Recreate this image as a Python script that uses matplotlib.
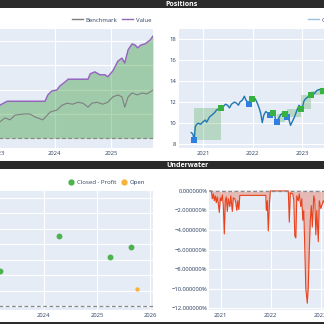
import matplotlib
matplotlib.use('Agg')
import matplotlib.pyplot as plt
from matplotlib.patches import Rectangle
from matplotlib.lines import Line2D
from matplotlib.ticker import FuncFormatter

plt.rcParams['font.family'] = ['Open Sans', 'DejaVu Sans']

# --- portfolio value vs benchmark (top left) ---
init_value = 100
value_years = [2022.90, 2023.03, 2023.16, 2023.83, 2023.88, 2023.95, 2024.04, 2024.09, 2024.18,
               2024.24, 2024.59, 2024.63, 2024.71, 2024.80, 2024.89, 2024.94, 2025.03, 2025.12,
               2025.19, 2025.24, 2025.30, 2025.37, 2025.42, 2025.47, 2025.53, 2025.60, 2025.69, 2025.74]
value_vals = [165, 168, 176, 176, 189, 197, 199, 207, 215,
              221, 221, 232, 236, 230, 230, 226, 238, 258,
              264, 254, 281, 293, 291, 285, 291, 293, 301, 309]
bench_years = [2022.90, 2023.03, 2023.12, 2023.21, 2023.30, 2023.47, 2023.56, 2023.65, 2023.79, 2023.92,
               2024.04, 2024.13, 2024.22, 2024.32, 2024.41, 2024.50, 2024.59, 2024.66, 2024.75, 2024.85,
               2024.94, 2025.03, 2025.12, 2025.19, 2025.24, 2025.30, 2025.37, 2025.46, 2025.55, 2025.63, 2025.74]
bench_vals = [130, 134, 142, 138, 148, 150, 150, 144, 138, 154,
              158, 168, 172, 170, 174, 172, 164, 172, 174, 170,
              174, 185, 189, 185, 164, 185, 193, 189, 193, 191, 199]

# --- close price and trades (top right) ---
close_years = [2020.76, 2020.79, 2020.82, 2020.84, 2020.87, 2020.90, 2020.95, 2020.99, 2021.04, 2021.07,
               2021.13, 2021.17, 2021.23, 2021.27, 2021.33, 2021.36, 2021.41, 2021.45, 2021.49, 2021.53,
               2021.57, 2021.63, 2021.67, 2021.71, 2021.74, 2021.79, 2021.83, 2021.86, 2021.91, 2021.94,
               2021.97, 2022.02, 2022.06, 2022.09, 2022.13, 2022.16, 2022.19, 2022.22, 2022.26, 2022.29,
               2022.34, 2022.37, 2022.41, 2022.44, 2022.47, 2022.52, 2022.56, 2022.61, 2022.65, 2022.69,
               2022.73, 2022.76, 2022.79, 2022.84, 2022.89, 2022.93, 2022.96, 2022.99, 2023.03, 2023.06,
               2023.11, 2023.15, 2023.19, 2023.24, 2023.29, 2023.34, 2023.37, 2023.42, 2023.50]
close_prices = [9.1, 9.0, 8.4, 9.65, 9.9, 10.0, 9.9, 10.1, 10.3, 10.1,
                10.6, 10.75, 11.0, 11.25, 11.4, 11.4, 11.6, 11.8, 11.7, 11.45,
                11.8, 12.0, 11.9, 11.7, 12.0, 12.2, 12.55, 12.2, 11.9, 12.0,
                12.35, 12.5, 12.2, 11.9, 11.4, 10.9, 10.05, 10.75, 11.1, 11.0,
                10.9, 10.75, 11.0, 10.75, 10.05, 10.45, 10.8, 11.0, 10.9, 10.55,
                10.3, 9.8, 10.1, 10.6, 11.25, 11.7, 11.55, 11.35, 12.1, 12.3,
                12.5, 12.65, 12.7, 12.8, 13.1, 13.2, 13.05, 13.1, 13.2]
entry_years = [2020.82, 2021.92, 2022.35, 2022.48, 2022.69, 2022.98, 2023.17]
entry_prices = [8.4, 11.8, 10.75, 10.1, 10.55, 11.33, 12.65]
exit_years = [2021.36, 2021.99, 2022.41, 2022.65, 2022.98, 2023.17, 2023.41]
exit_prices = [11.4, 12.3, 11.0, 10.9, 11.33, 12.65, 13.05]

# --- trade returns (bottom left) ---
closed_years = [2023.18, 2024.29, 2025.25, 2025.64]
closed_returns = [11.3, 22.6, 15.8, 19.0]
open_years = [2025.75]
open_returns = [5.5]

# --- underwater / drawdown in % (bottom right) ---
dd_years = [2020.76, 2020.81, 2020.83, 2020.85, 2020.87, 2020.89, 2020.91, 2020.93, 2020.95, 2020.97,
            2020.99, 2021.01, 2021.03, 2021.05, 2021.07, 2021.09, 2021.11, 2021.13, 2021.15, 2021.18,
            2021.20, 2021.23, 2021.25, 2021.28, 2021.30, 2021.32, 2021.34, 2021.36, 2021.38, 2021.90,
            2021.91, 2021.93, 2021.95, 2021.97, 2021.99, 2022.35, 2022.37, 2022.39, 2022.44, 2022.46,
            2022.48, 2022.50, 2022.52, 2022.55, 2022.57, 2022.60, 2022.62, 2022.64, 2022.66, 2022.68,
            2022.70, 2022.73, 2022.75, 2022.77, 2022.79, 2022.81, 2022.83, 2022.86, 2022.88, 2022.90,
            2022.92, 2022.95, 2022.97, 2023.00, 2023.05, 2023.10]
dd_vals = [0, 0, -0.8, -0.3, -1.0, -0.5, -1.2, -0.6, -1.3, -2.2,
           -0.7, -1.0, -0.4, -1.5, -4.4, -1.0, -0.6, -2.1, -0.8, -1.6,
           -0.5, -2.1, -0.7, -0.8, -1.2, -2.0, -1.0, -1.9, -0.45, -0.45,
           -2.0, -1.0, -4.1, -1.5, 0, 0, -3.2, -0.2, -0.3, -1.0,
           -4.6, -4.8, -0.5, -1.0, -0.3, -1.6, -0.8, -3.0, -2.0, -6.0,
           -10.0, -11.5, -9.7, -6.0, -3.0, -1.5, -3.7, -0.5, -1.0, -4.5,
           -2.0, -5.2, -1.0, -1.8, -1.0, -1.5]

W, H = 324, 324
BG = '#E5ECF6'
TXT = '#2a3f5f'
BAR = '#2b2b2b'
GREEN = '#37b13f'
RED = '#e8431d'
FS = 4.2

fig = plt.figure(figsize=(3.24, 3.24), dpi=100)


def box(x0, y0, x1, y1):
    # pixel box (top-left origin) -> figure fraction
    return [x0 / W, 1 - y1 / H, (x1 - x0) / W, (y1 - y0) / H]


def style(ax):
    ax.set_facecolor(BG)
    for s in ax.spines.values():
        s.set_visible(False)
    ax.grid(True, color='white', linewidth=0.8)
    ax.set_axisbelow(True)
    ax.tick_params(length=0, labelsize=FS, labelcolor=TXT, pad=2)


def year_fmt(v, pos):
    return str(int(round(v)))


# top left: value
ax1 = fig.add_axes(box(-60, 29, 153, 148))
style(ax1)
ax1.fill_between(value_years, value_vals, init_value, color='green', alpha=0.3, linewidth=0)
ax1.plot(bench_years, bench_vals, color='#7f7f7f', lw=0.8)
ax1.plot(value_years, value_vals, color='#9467bd', lw=1.1)
ax1.axhline(init_value, color='#8a8a8a', lw=0.9, ls=(0, (3, 2)))
ax1.set_xlim(2021.970, 2025.740)
ax1.set_ylim(80.6, 323.5)
ax1.set_xticks([2022, 2023, 2024, 2025])
ax1.set_yticks([100, 150, 200, 250, 300])
ax1.xaxis.set_major_formatter(FuncFormatter(year_fmt))

# top right: positions
ax2 = fig.add_axes(box(179, 29, 400, 148))
style(ax2)
for ey, ep, xy, xp in zip(entry_years, entry_prices, exit_years, exit_prices):
    ax2.add_patch(Rectangle((ey, ep), xy - ey, xp - ep, color='green', alpha=0.2, lw=0))
ax2.plot(close_years, close_prices, color='#1f77b4', lw=1)
ax2.scatter(entry_years, entry_prices, marker='s', s=15, color='#2f7fe0', zorder=3, lw=0)
ax2.scatter(exit_years, exit_prices, marker='s', s=15, color=GREEN, zorder=4, lw=0)
ax2.set_xlim(2020.513, 2024.964)
ax2.set_ylim(7.65, 18.92)
ax2.set_xticks([2021, 2022, 2023, 2024])
ax2.set_yticks([8, 10, 12, 14, 16, 18])
ax2.xaxis.set_major_formatter(FuncFormatter(year_fmt))

# bottom left: trade returns
ax3 = fig.add_axes(box(-60, 191, 153, 310))
style(ax3)
ax3.axhline(0, color='#8a8a8a', lw=0.9, ls=(0, (3, 2)))
ax3.scatter(closed_years, closed_returns, s=18, color='#4cb34f', lw=0, zorder=3)
ax3.scatter(open_years, open_returns, s=10, color='#f7b23b', lw=0, zorder=3)
ax3.set_xlim(2022.058, 2026.049)
ax3.set_ylim(-1.29, 37.1)
ax3.set_xticks([2023, 2024, 2025, 2026])
ax3.set_yticks([0, 5, 10, 15, 20, 25, 30, 35])
ax3.xaxis.set_major_formatter(FuncFormatter(year_fmt))

# bottom right: underwater
ax4 = fig.add_axes(box(209, 190, 400, 310))
style(ax4)
ax4.fill_between(dd_years, dd_vals, 0, color=RED, alpha=0.3, linewidth=0)
ax4.plot(dd_years, dd_vals, color=RED, lw=0.8)
ax4.axhline(0, color='#8a8a8a', lw=0.9, ls=(0, (3, 2)))
ax4.set_xlim(2020.764, 2024.584)
ax4.set_ylim(-12.2, 0.1)
ax4.set_xticks([2021, 2022, 2023, 2024])
ax4.set_yticks([0, -2, -4, -6, -8, -10, -12])
ax4.xaxis.set_major_formatter(FuncFormatter(year_fmt))
ax4.yaxis.set_major_formatter(FuncFormatter(lambda v, p: f'{v:.6f}%'.replace('-', '\u2212')))
ax4.tick_params(axis='y', pad=1)

# legends
leg_kw = dict(frameon=False, fontsize=4.3, labelcolor=TXT, borderpad=0, borderaxespad=0,
              handletextpad=0.5, columnspacing=0.8, loc='center left', bbox_transform=fig.transFigure)
fig.legend(handles=[Line2D([], [], color='#7f7f7f', lw=1), Line2D([], [], color='#9467bd', lw=1)],
           labels=['Benchmark', 'Value'], ncol=2, handlelength=1.8,
           bbox_to_anchor=(72 / W, 1 - 20 / H), **leg_kw)
fig.legend(handles=[Line2D([], [], color='#1f77b4', lw=1, alpha=0.45)], labels=['Close'],
           handlelength=1.8, bbox_to_anchor=(308 / W, 1 - 20 / H), **leg_kw)
fig.legend(handles=[Line2D([], [], color='#4cb34f', marker='o', ls='none', markersize=3.5),
                    Line2D([], [], color='#f7b23b', marker='o', ls='none', markersize=3.5)],
           labels=['Closed - Profit', 'Open'], ncol=2, handlelength=1.0,
           bbox_to_anchor=(68 / W, 1 - 182 / H), **leg_kw)

# dark title bars
for y0, y1 in [(0, 8), (161, 169), (322, 324)]:
    fig.add_artist(Rectangle((0, 1 - y1 / H), 1, (y1 - y0) / H, transform=fig.transFigure,
                             color=BAR, lw=0, zorder=5))
fig.text(165 / W, 1 - 4.2 / H, 'Positions', color='white', fontsize=5, fontweight='bold',
         va='center', ha='left', zorder=6)
fig.text(166 / W, 1 - 165.2 / H, 'Underwater', color='white', fontsize=5, fontweight='bold',
         va='center', ha='left', zorder=6)

fig.savefig('out.png', dpi=100, facecolor='white')
